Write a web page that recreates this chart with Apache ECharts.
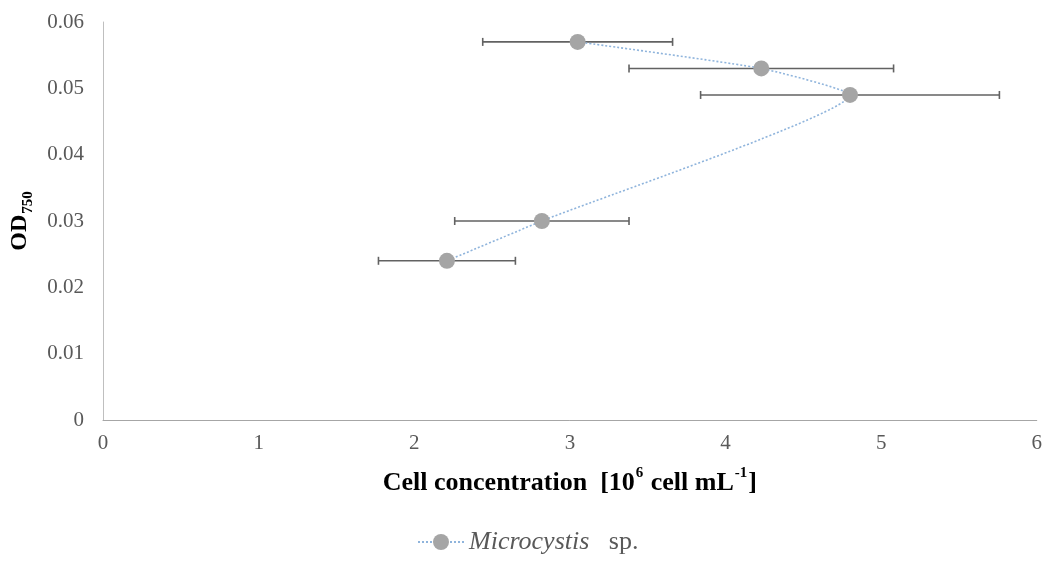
<!DOCTYPE html>
<html>
<head>
<meta charset="utf-8">
<script src="https://cdn.jsdelivr.net/npm/echarts@6/dist/echarts.min.js"></script>
<style>
  html, body { margin: 0; padding: 0; background: #ffffff; }
  #chart { width: 1045px; height: 561px; }
</style>
</head>
<body>
<div id="chart"></div>
<script>
// Cell concentration (10^6 cells per mL) against optical density at 750 nm
const cellConc = [3.05, 4.23, 4.80, 2.82, 2.21];
const od750 = [0.057, 0.053, 0.049, 0.030, 0.024];
// Horizontal error (± on cell concentration)
const concErr = [0.61, 0.85, 0.96, 0.56, 0.44];
const xTicks = [0, 1, 2, 3, 4, 5, 6];
const yTicks = [0, 0.01, 0.02, 0.03, 0.04, 0.05, 0.06];
const seriesName = 'Microcystis sp.';

const lineData = cellConc.map((x, i) => [x, od750[i]]);
const errData = cellConc.map((x, i) => [x, od750[i], x - concErr[i], x + concErr[i]]);

const labelColor = '#595959';
const serif = '"Liberation Serif", "Times New Roman", serif';

const chart = echarts.init(document.getElementById('chart'), null, { renderer: 'canvas' });

chart.setOption({
  animation: false,
  backgroundColor: '#ffffff',
  grid: { left: 101, right: 5, top: 22, bottom: 141, containLabel: false },
  xAxis: {
    type: 'value',
    min: xTicks[0],
    max: xTicks[xTicks.length - 1],
    interval: 1,
    splitLine: { show: false },
    axisTick: { show: false },
    axisLine: { show: true, lineStyle: { color: '#a6a6a6', width: 1 } },
    axisLabel: { color: labelColor, fontFamily: serif, fontSize: 21, margin: 13 },
    name: '{b|Cell concentration  [10}{sup|6}{b| cell mL}{sup|-1}{b|]}',
    nameLocation: 'middle',
    nameGap: 46,
    nameTextStyle: {
      rich: {
        b: { fontFamily: serif, fontWeight: 'bold', fontSize: 26, color: '#000000', lineHeight: 30, verticalAlign: 'bottom' },
        sup: { fontFamily: serif, fontWeight: 'bold', fontSize: 15, color: '#000000', lineHeight: 30, verticalAlign: 'top', padding: [0, 1, 12, 1] }
      }
    }
  },
  yAxis: {
    type: 'value',
    min: yTicks[0],
    max: yTicks[yTicks.length - 1],
    interval: 0.01,
    splitLine: { show: false },
    axisTick: { show: false },
    axisLine: { show: true, lineStyle: { color: '#bfbfbf', width: 1 } },
    axisLabel: {
      color: labelColor, fontFamily: serif, fontSize: 21, margin: 19,
      formatter: v => (Math.round(v * 100) / 100).toString()
    },
    name: '{b|OD}{sub|750}',
    nameLocation: 'middle',
    nameRotate: 90,
    nameGap: 67,
    nameTextStyle: {
      rich: {
        b: { fontFamily: serif, fontWeight: 'bold', fontSize: 24, color: '#000000', lineHeight: 28, verticalAlign: 'top' },
        sub: { fontFamily: serif, fontWeight: 'bold', fontSize: 15, color: '#000000', lineHeight: 28, verticalAlign: 'bottom', padding: [12, 0, 0, 1] }
      }
    }
  },
  legend: {
    show: true,
    data: [seriesName],
    bottom: 1,
    left: 412,
    itemWidth: 46,
    itemHeight: 20,
    itemGap: 10,
    formatter: () => '{i|Microcystis}{n|   sp.}',
    textStyle: {
      rich: {
        i: { fontFamily: serif, fontStyle: 'italic', fontSize: 26, color: labelColor },
        n: { fontFamily: serif, fontSize: 26, color: labelColor }
      }
    }
  },
  series: [
    {
      // horizontal error bars with end caps
      type: 'custom',
      name: 'error',
      z: 2,
      silent: true,
      data: errData,
      renderItem: (params, api) => {
        const y = api.value(1);
        const lo = api.coord([api.value(2), y]);
        const hi = api.coord([api.value(3), y]);
        const cap = 4;
        const style = { stroke: '#626262', lineWidth: 1.6 };
        return {
          type: 'group',
          children: [
            { type: 'line', shape: { x1: lo[0], y1: lo[1], x2: hi[0], y2: hi[1] }, style },
            { type: 'line', shape: { x1: lo[0], y1: lo[1] - cap, x2: lo[0], y2: lo[1] + cap }, style },
            { type: 'line', shape: { x1: hi[0], y1: hi[1] - cap, x2: hi[0], y2: hi[1] + cap }, style }
          ]
        };
      }
    },
    {
      type: 'line',
      name: seriesName,
      z: 3,
      data: lineData,
      smooth: 0.15,
      symbol: 'circle',
      symbolSize: 16,
      showSymbol: true,
      itemStyle: { color: '#a5a5a5', borderWidth: 0 },
      lineStyle: { color: '#8fb4dc', width: 1.6, type: [2, 2] }
    }
  ]
});
</script>
</body>
</html>
